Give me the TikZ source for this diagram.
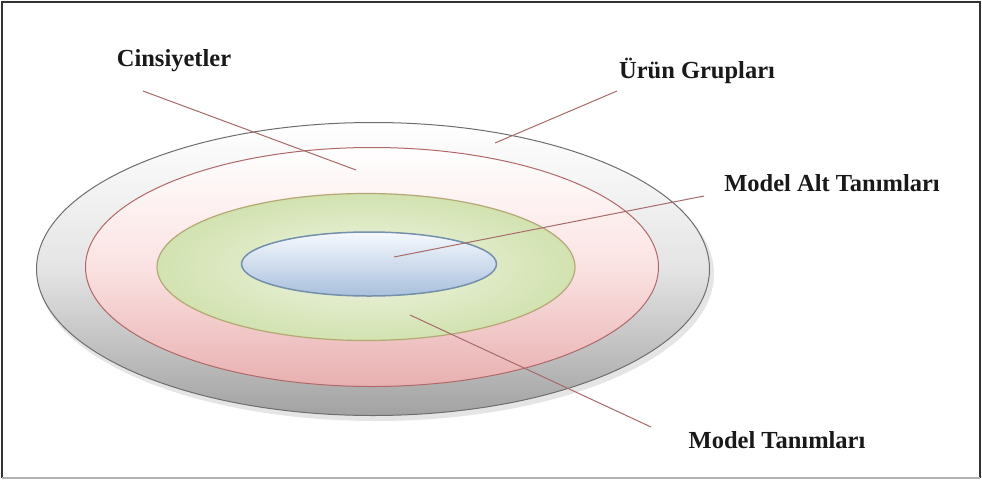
\documentclass[tikz,border=0pt]{standalone}
\usepackage{fontspec}
\newfontfamily\lblfont{Liberation Serif}
\usetikzlibrary{shapes.geometric}
\definecolor{leader}{HTML}{A86A6A}
\definecolor{grayedge}{HTML}{6E6E6E}
\definecolor{pinkedge}{HTML}{B06868}
\definecolor{greenedge}{HTML}{B4A874}
\definecolor{blueedge}{HTML}{7490AA}
\definecolor{graybot}{HTML}{A2A2A2}
\definecolor{graymid}{HTML}{E4E4E4}
\definecolor{pinkbot}{HTML}{E8B0B0}
\definecolor{pinkmid}{HTML}{FBE2E2}
\definecolor{greenout}{HTML}{D2E2B0}
\definecolor{greenin}{HTML}{F0F5E4}
\definecolor{bluebot}{HTML}{A9C0DD}
\definecolor{bluetop}{HTML}{F6F9FD}
\tikzset{
  ring/.style={ellipse, inner sep=0pt, line width=1pt},
  lbl/.style={font=\lblfont\bfseries\fontsize{24.5}{26}\selectfont, inner sep=0pt, text=black!90},
  leaderline/.style={draw=leader, line width=1pt}
}
\begin{document}
\begin{tikzpicture}[x=1pt,y=-1pt]
\useasboundingbox (0,0) rectangle (982,480);
\fill[white] (0,0) rectangle (982,480);
\draw[black!80, line width=1.5pt] (2,478) -- (2,2) -- (980,2) -- (980,478);
\draw[black!30, line width=1.5pt] (2,478) -- (980,478);
% shadow
\fill[black, opacity=0.10] (376,274) ellipse [x radius=338, y radius=147];
% rings
\node[ring, draw=grayedge, minimum width=673, minimum height=293,
      top color=white, bottom color=graybot, middle color=graymid] (outer) at (373,269) {};
\node[ring, draw=pinkedge, minimum width=573, minimum height=239,
      top color=white, bottom color=pinkbot, middle color=pinkmid] (pink) at (372,267) {};
\node[ring, draw=greenedge, line width=1.2pt, minimum width=418, minimum height=147,
      inner color=greenin, outer color=greenout] (green) at (366,267) {};
\node[ring, draw=blueedge, line width=1.5pt, minimum width=255, minimum height=64,
      top color=bluetop, bottom color=bluebot] (blue) at (369,264) {};
% labels
\node[lbl] (cins) at (174,61) {Cinsiyetler};
\node[lbl] (urun) at (697,71) {Ürün Grupları};
\node[lbl] (malt) at (832,183) {Model Alt Tanımları};
\node[lbl] (mtan) at (777,440) {Model Tanımları};
% leader end points
\coordinate (c1) at (143,91);  \coordinate (c2) at (356,170);
\coordinate (u1) at (617,91);  \coordinate (u2) at (495,143);
\coordinate (a1) at (704,196); \coordinate (a2) at (394,257);
\coordinate (t1) at (410,315); \coordinate (t2) at (651,427);
\draw[leaderline] (c1) -- (c2);
\draw[leaderline] (u1) -- (u2);
\draw[leaderline] (a1) -- (a2);
\draw[leaderline] (t1) -- (t2);
\end{tikzpicture}
\end{document}
